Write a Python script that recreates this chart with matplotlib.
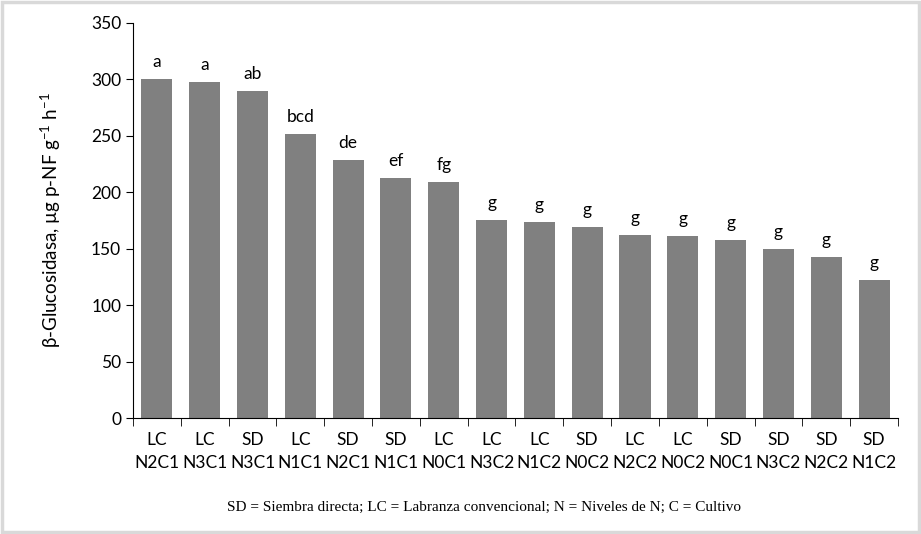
import matplotlib
matplotlib.use("Agg")
import matplotlib.pyplot as plt
from matplotlib.patches import Rectangle

plt.rcParams['font.family'] = ['Lato', 'DejaVu Sans']
plt.rcParams['mathtext.default'] = 'regular'

sistemas = ["LC", "LC", "SD", "LC", "SD", "SD", "LC", "LC",
            "LC", "SD", "LC", "LC", "SD", "SD", "SD", "SD"]
tratamientos = ["N2C1", "N3C1", "N3C1", "N1C1", "N2C1", "N1C1", "N0C1", "N3C2",
                "N1C2", "N0C2", "N2C2", "N0C2", "N0C1", "N3C2", "N2C2", "N1C2"]
valores = [300, 298, 290, 252, 229, 213, 209, 175,
           174, 169, 162, 161, 158, 150, 143, 122]
letras = ["a", "a", "ab", "bcd", "de", "ef", "fg", "g",
          "g", "g", "g", "g", "g", "g", "g", "g"]

fig = plt.figure(figsize=(9.21, 5.34), dpi=100)
ax = fig.add_axes([0.1444, 0.2172, 0.8306, 0.7398])

x = list(range(len(valores)))
bars = ax.bar(x, valores, width=0.65, color="#808080")
for b, l in zip(bars, letras):
    ax.text(b.get_x() + b.get_width() / 2, b.get_height() + 8, l,
            ha="center", va="bottom", fontsize=12.5)

ax.set_xlim(-0.5, len(valores) - 0.5)
ax.set_ylim(0, 350)
ax.set_yticks(range(0, 351, 50))
ax.tick_params(axis="y", labelsize=12.5, direction="out", length=5)
ax.set_xticks(x)
ax.set_xticklabels([f"{s}\n{t}" for s, t in zip(sistemas, tratamientos)],
                   fontsize=12.5, linespacing=1.55)
ax.tick_params(axis="x", length=0, pad=10)
ax.set_xticks([i - 0.5 for i in range(len(valores) + 1)], minor=True)
ax.tick_params(axis="x", which="minor", length=6, direction="out")
for s in ["top", "right"]:
    ax.spines[s].set_visible(False)
ax.set_ylabel("β-Glucosidasa, µg p-NF g$^{-1}$ h$^{-1}$", fontsize=13.5, labelpad=20)

fig.text(0.525, 0.05, "SD = Siembra directa; LC = Labranza convencional; N = Niveles de N; C = Cultivo",
         ha="center", va="center", fontsize=11,
         family=["Liberation Serif", "DejaVu Serif"])

fig.patches.append(Rectangle((0.002, 0.003), 0.996, 0.994, transform=fig.transFigure,
                             fill=False, edgecolor="#d9d9d9", linewidth=2.5))

fig.savefig("out.png", dpi=100)
